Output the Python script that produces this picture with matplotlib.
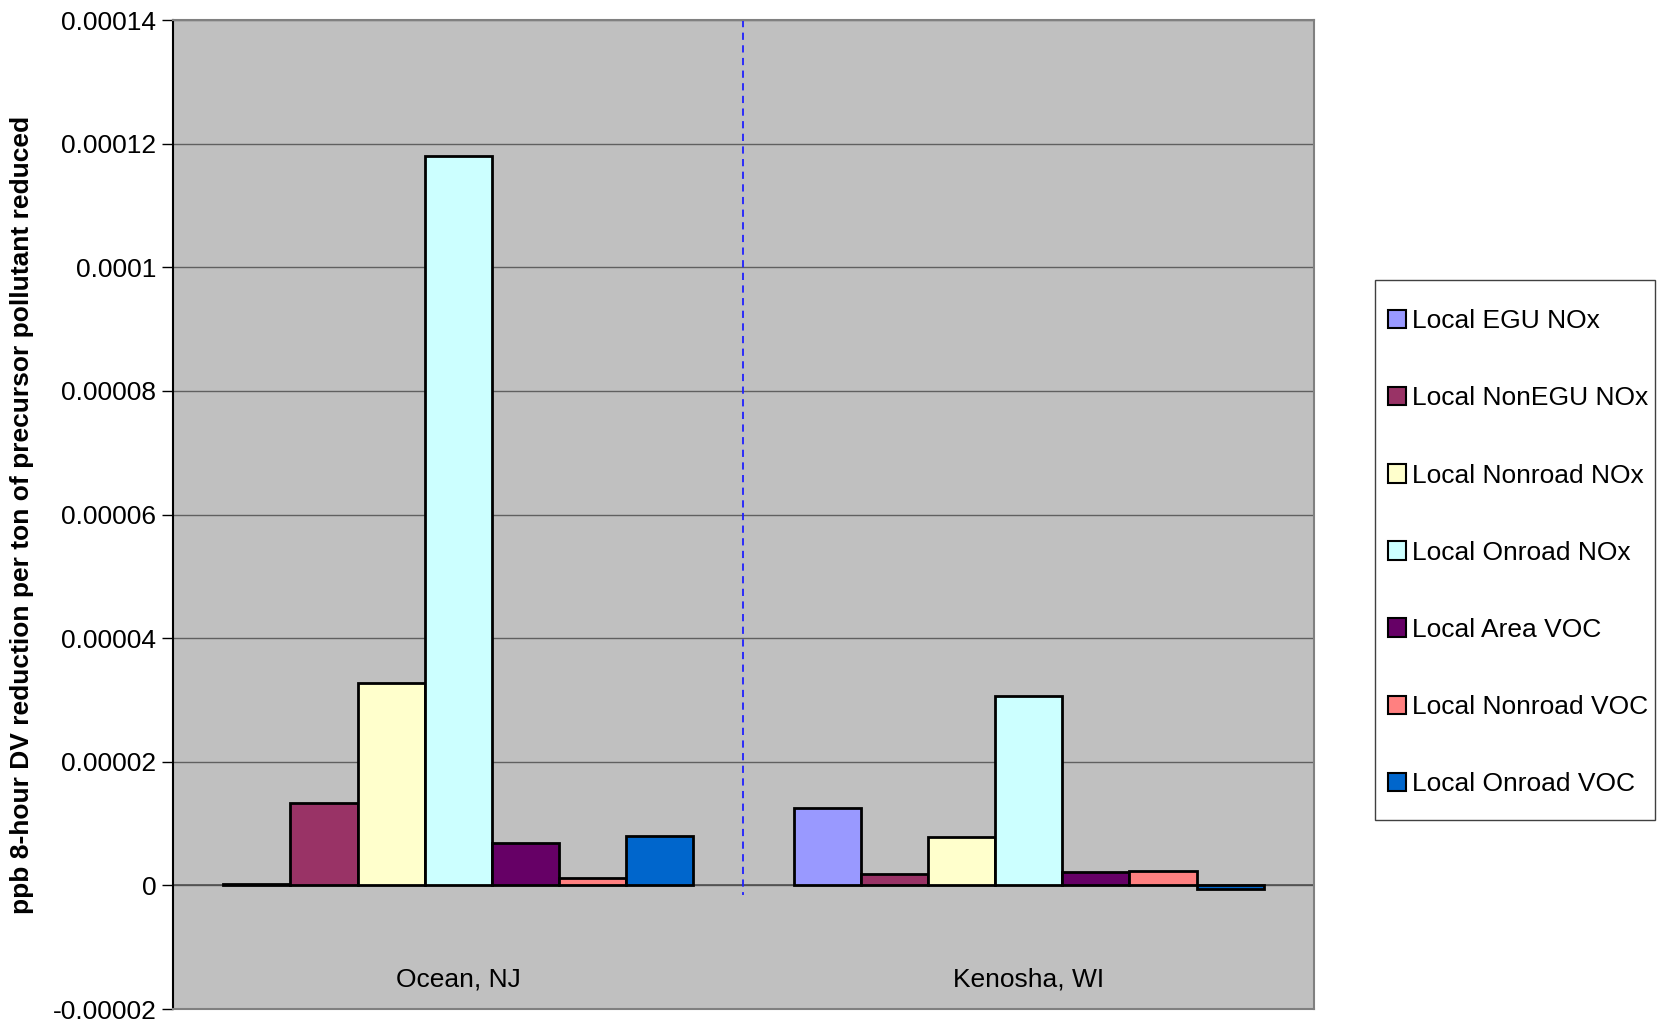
import numpy as np
import matplotlib.pyplot as plt
from matplotlib.ticker import FuncFormatter
from matplotlib.patches import Rectangle

# Chart data
sites = ['Ocean, NJ', 'Kenosha, WI']
sources = ['Local EGU NOx', 'Local NonEGU NOx', 'Local Nonroad NOx', 'Local Onroad NOx',
           'Local Area VOC', 'Local Nonroad VOC', 'Local Onroad VOC']
ocean_nj = [2e-7, 1.33e-5, 3.28e-5, 1.18e-4, 6.9e-6, 1.2e-6, 8.0e-6]
kenosha_wi = [1.26e-5, 1.8e-6, 7.9e-6, 3.06e-5, 2.2e-6, 2.4e-6, -6e-7]
colors = ['#9999FF', '#993366', '#FFFFCC', '#CCFFFF', '#660066', '#FF8080', '#0066CC']
yticks = [-0.00002, 0, 0.00002, 0.00004, 0.00006, 0.00008, 0.0001, 0.00012, 0.00014]

plt.rcParams['font.family'] = ['Liberation Sans', 'DejaVu Sans']

fig = plt.figure(figsize=(16.66, 10.22), dpi=100)
ax = fig.add_axes([0.1038, 0.0127, 0.6849, 0.9677])
ax.set_facecolor('#C0C0C0')

values = np.array([ocean_nj, kenosha_wi])
n = len(sources)
width = 1 / (n + 1.5)
x = np.arange(len(sites))
for i, (name, col) in enumerate(zip(sources, colors)):
    ax.bar(x + (i - (n - 1) / 2) * width, values[:, i], width, color=col,
           edgecolor='black', linewidth=2, label=name, zorder=3)

ax.set_xlim(-0.5, len(sites) - 0.5)
ax.set_ylim(yticks[0], yticks[-1])
ax.set_yticks(yticks)
ax.yaxis.grid(True, color='#606060', linewidth=1, zorder=0)
ax.axhline(0, color='#505050', linewidth=1.2, zorder=2)

def fmt(v, pos):
    if abs(v) < 1e-12:
        return '0'
    return f'{v:.5f}'.rstrip('0')

ax.yaxis.set_major_formatter(FuncFormatter(fmt))
ax.tick_params(axis='y', labelsize=19, length=8, width=1, pad=4, direction='out')
ax.set_xticks([])

# divider between sites
ax.plot([0.5, 0.5], [yticks[-1], -1.5e-6], color='#2020FF', linestyle=(0, (4, 3)),
        linewidth=1.3, zorder=2)

for xi, s in zip(x, sites):
    ax.text(xi, -1.52e-5, s, ha='center', va='center', fontsize=19)

for side in ['top', 'right', 'bottom']:
    ax.spines[side].set_color('#808080')
    ax.spines[side].set_linewidth(1.5)
ax.spines['left'].set_color('black')
ax.spines['left'].set_linewidth(1.5)

ax.set_ylabel('ppb 8-hour DV reduction per ton of precursor pollutant reduced',
              family=['Liberation Sans Narrow', 'Liberation Sans'], fontweight='bold',
              fontsize=19)
ax.yaxis.set_label_coords(-0.122, 0.5)

# legend box drawn separately so the padding matches
fig.patches.append(Rectangle((1375 / 1666, 1 - 820 / 1022), 280 / 1666, 540 / 1022,
                             transform=fig.transFigure, facecolor='white',
                             edgecolor='#404040', linewidth=1, zorder=0))
leg = fig.legend(loc='upper left', bbox_to_anchor=(0.8331, 0.6975), fontsize=19,
                 frameon=False, handlelength=0.7, handleheight=0.7, handletextpad=0.2,
                 labelspacing=2.015, borderpad=0, borderaxespad=0)
for h in leg.legend_handles:
    h.set_linewidth(1.5)

fig.savefig('out.png', dpi=100, facecolor='white')
